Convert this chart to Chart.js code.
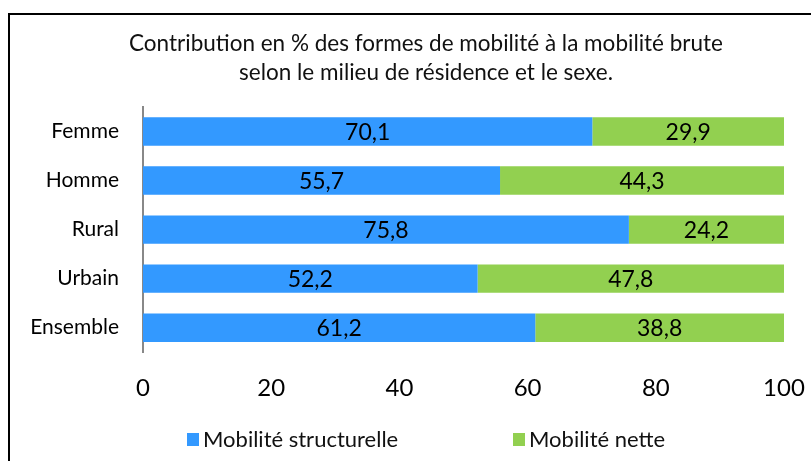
<!DOCTYPE html>
<html>
<head>
<meta charset="utf-8">
<script src="https://cdn.jsdelivr.net/npm/chart.js@4.4.1/dist/chart.umd.min.js"></script>
<style>
  body { margin: 0; background: #fff; }
  #wrap { position: relative; width: 811px; height: 461px; }
</style>
</head>
<body>
<div id="wrap"><canvas id="chart1" width="811" height="461"></canvas></div>
<script>
const categories = ["Femme", "Homme", "Rural", "Urbain", "Ensemble"];
const structurelle = [70.1, 55.7, 75.8, 52.2, 61.2];
const nette = [29.9, 44.3, 24.2, 47.8, 38.8];
const xTicks = [0, 20, 40, 60, 80, 100];
const titleLines = ["Contribution en % des formes de mobilité à la mobilité brute",
                    "selon le milieu de résidence et le sexe."];

const FONT = "Lato, 'Open Sans', sans-serif";

// frame, title, value labels and legend
const extras = {
  id: "extras",
  beforeDraw(chart) {
    const c = chart.ctx;
    c.save();
    c.strokeStyle = "#000";
    c.lineWidth = 2;
    c.beginPath();
    c.moveTo(9, 470);
    c.lineTo(9, 14);
    c.lineTo(820, 14);
    c.stroke();
    c.restore();
  },
  afterDatasetsDraw(chart) {
    const c = chart.ctx;
    c.save();
    c.font = "23px " + FONT;
    c.fillStyle = "#000";
    c.textAlign = "center";
    c.textBaseline = "middle";
    chart.data.datasets.forEach((ds, i) => {
      chart.getDatasetMeta(i).data.forEach((bar, j) => {
        const txt = ds.data[j].toFixed(1).replace(".", ",");
        c.fillText(txt, (bar.x + bar.base) / 2, bar.y + 1);
      });
    });
    c.restore();
  },
  afterDraw(chart) {
    const c = chart.ctx;
    c.save();
    c.fillStyle = "#111";
    c.textAlign = "center";
    c.textBaseline = "middle";
    c.font = "22.5px " + FONT;
    c.fillText(titleLines[0], 426, 44);
    c.fillText(titleLines[1], 426, 73);

    // legend
    c.font = "22px " + FONT;
    c.textAlign = "left";
    const starts = [187, 513];
    chart.data.datasets.forEach((ds, i) => {
      c.fillStyle = ds.backgroundColor;
      c.fillRect(starts[i], 433, 12, 13);
      c.fillStyle = "#111";
      c.fillText(ds.label, starts[i] + 16, 440);
    });
    c.restore();
  }
};

new Chart(document.getElementById("chart1").getContext("2d"), {
  type: "bar",
  data: {
    labels: categories,
    datasets: [
      { label: "Mobilité structurelle", data: structurelle, backgroundColor: "#3399ff",
        barPercentage: 0.58, categoryPercentage: 1 },
      { label: "Mobilité nette", data: nette, backgroundColor: "#92d050",
        barPercentage: 0.58, categoryPercentage: 1 }
    ]
  },
  options: {
    indexAxis: "y",
    responsive: false,
    animation: false,
    layout: { padding: { top: 107, right: 27, bottom: 36, left: 0 } },
    plugins: {
      legend: { display: false },
      title: { display: false },
      tooltip: { enabled: false }
    },
    scales: {
      x: {
        stacked: true,
        min: 0,
        max: 100,
        afterBuildTicks(scale) { scale.ticks = xTicks.map(v => ({ value: v })); },
        afterFit(scale) { scale.paddingRight = 0; scale.paddingLeft = 0; },
        grid: { display: false, drawTicks: false },
        border: { display: false },
        ticks: { color: "#000", font: { family: FONT, size: 24 }, padding: 22, maxRotation: 0 }
      },
      y: {
        stacked: true,
        grid: { display: false, drawTicks: false },
        border: { display: true, color: "#888", width: 2 },
        afterFit(scale) { scale.width = 143; },
        ticks: { color: "#000", font: { family: FONT, size: 21 }, padding: 24 }
      }
    }
  },
  plugins: [extras]
});
</script>
</body>
</html>
